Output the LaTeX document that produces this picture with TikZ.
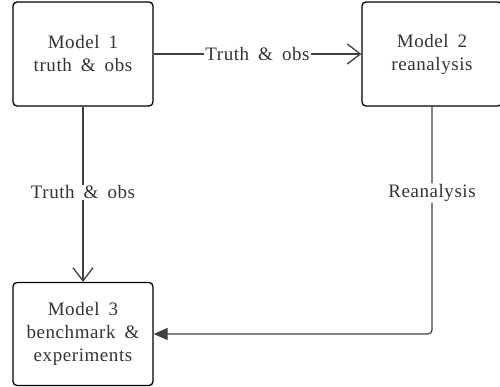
\documentclass[tikz,border=0pt]{standalone}
\usepackage{fontspec}
\setmainfont{Liberation Serif}[LetterSpace=3,WordSpace=1.7]
\usetikzlibrary{arrows.meta,positioning}
\begin{document}
\begin{tikzpicture}[x=1pt,y=-1pt,
  model/.style={draw=black,line width=1.3pt,rounded corners=4pt,minimum width=140pt,minimum height=104pt,inner sep=0pt,align=center,text=black!80,font=\fontsize{19}{23}\selectfont},
  conn/.style={draw=black!75,line width=1.2pt},
  lbl/.style={fill=white,inner sep=1pt,text=black!80,font=\fontsize{19}{23}\selectfont},
  openarrow/.style={-{Straight Barb[length=13pt,width=20pt,line width=1.3pt]}},
  fillarrow/.style={-{Triangle[length=14pt,width=12pt]}}]
\useasboundingbox (0,0) rectangle (500,387);
\clip (0,0) rectangle (500,387);
\node[model] (m1) at (83,54) {Model 1\\truth \& obs};
\node[model] (m2) at (432,54) {Model 2\\reanalysis};
\node[model,minimum height=103pt] (m3) at (83,334) {Model 3\\benchmark \&\\experiments};
\draw[conn,openarrow] (m1.east) -- node[lbl] {Truth \& obs} (m2.west);
\draw[conn,openarrow] (m1.south) -- node[lbl,pos=0.49] {Truth \& obs} (m3.north);
\coordinate (bend) at (m2.south |- m3.east);
\draw[conn,fillarrow,rounded corners=4pt] (m2.south) -- node[lbl,pos=0.38] {Reanalysis} (bend) -- (m3.east);
\end{tikzpicture}
\end{document}
